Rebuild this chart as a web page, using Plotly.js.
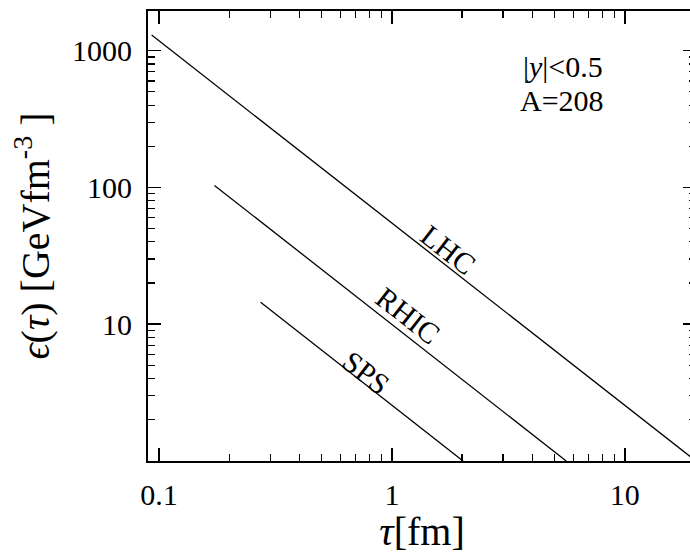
<!DOCTYPE html>
<html>
<head>
<meta charset="utf-8">
<script src="https://cdn.plot.ly/plotly-3.0.1.min.js"></script>
<style>
html, body { margin: 0; padding: 0; overflow: hidden; background: #fff; }
#chart { width: 697px; height: 554px; }
</style>
</head>
<body>
<div id="chart"></div>
<script>
// Endpoints (log-log straight lines)
const lhcTau = [0.093, 20.2];
const lhcEps = [1300, 1.0];
const rhicTau = [0.173, 5.6];
const rhicEps = [103.5, 1.0];
const spsTau = [0.273, 2.02];
const spsEps = [14.5, 1.0];

const seriesNames = ["LHC", "RHIC", "SPS"];
const xTickVals = [0.1, 1, 10];
const xTickText = ["0.1", "1", "10"];
const yTickVals = [10, 100, 1000];
const yTickText = ["10", "100", "1000"];

function minorTicks(decades) {
  const out = [];
  decades.forEach(d => { for (let m = 2; m <= 9; m++) out.push(m * d); });
  return out;
}

const FONT = "Liberation Serif, Times New Roman, serif";
const lineStyle = { color: "#000", width: 1.3 };

const traces = [
  { x: lhcTau, y: lhcEps, name: seriesNames[0], mode: "lines", line: lineStyle },
  { x: rhicTau, y: rhicEps, name: seriesNames[1], mode: "lines", line: lineStyle },
  { x: spsTau, y: spsEps, name: seriesNames[2], mode: "lines", line: lineStyle }
];

const axisCommon = {
  type: "log",
  showgrid: false,
  zeroline: false,
  showline: true,
  linecolor: "#000",
  linewidth: 2,
  mirror: "allticks",
  ticks: "inside",
  ticklen: 13,
  tickwidth: 1.5,
  tickcolor: "#000",
  tickfont: { family: FONT, size: 30, color: "#000" },
  tickmode: "array"
};

const layout = {
  width: 697,
  height: 554,
  margin: { l: 148, r: 1, t: 11, b: 93 },
  paper_bgcolor: "#fff",
  plot_bgcolor: "#fff",
  showlegend: false,
  font: { family: FONT, color: "#000" },
  xaxis: Object.assign({}, axisCommon, {
    range: [Math.log10(0.0897), Math.log10(20.2)],
    tickvals: xTickVals,
    ticktext: xTickText,
    ticklabelstandoff: 6,
    minor: { tickmode: "array", tickvals: minorTicks([0.1, 1, 10]), ticks: "inside", ticklen: 7, tickwidth: 1.2, tickcolor: "#000" },
    title: { text: "<i>τ</i>[fm]", font: { family: FONT, size: 40, color: "#000" }, standoff: 13 }
  }),
  yaxis: Object.assign({}, axisCommon, {
    range: [0, 3.29],
    tickvals: yTickVals,
    ticktext: yTickText,
    ticklabelstandoff: 8,
    minor: { tickmode: "array", tickvals: minorTicks([1, 10, 100, 1000]), ticks: "inside", ticklen: 7, tickwidth: 1.2, tickcolor: "#000" },
    title: { text: "<i>ϵ</i>(<i>τ</i>) [GeVfm<sup>-3</sup> ]", font: { family: FONT, size: 40, color: "#000" }, standoff: 10 }
  }),
  annotations: [
    { xref: "paper", yref: "paper", x: 0.757, y: 0.876, text: "|<i>y</i>|&lt;0.5", showarrow: false, font: { family: FONT, size: 30, color: "#000" }, xanchor: "center", yanchor: "middle" },
    { xref: "paper", yref: "paper", x: 0.755, y: 0.80, text: "A=208", showarrow: false, font: { family: FONT, size: 30, color: "#000" }, xanchor: "center", yanchor: "middle" },
    { xref: "x", yref: "y", x: 0.240, y: 1.543, text: seriesNames[0], showarrow: false, textangle: 38, font: { family: FONT, size: 30, color: "#000" } },
    { xref: "x", yref: "y", x: 0.0687, y: 1.061, text: seriesNames[1], showarrow: false, textangle: 38, font: { family: FONT, size: 30, color: "#000" } },
    { xref: "x", yref: "y", x: -0.1116, y: 0.644, text: seriesNames[2], showarrow: false, textangle: 38, font: { family: FONT, size: 30, color: "#000" } }
  ]
};

Plotly.newPlot("chart", traces, layout, { displayModeBar: false, staticPlot: true });
</script>
</body>
</html>
